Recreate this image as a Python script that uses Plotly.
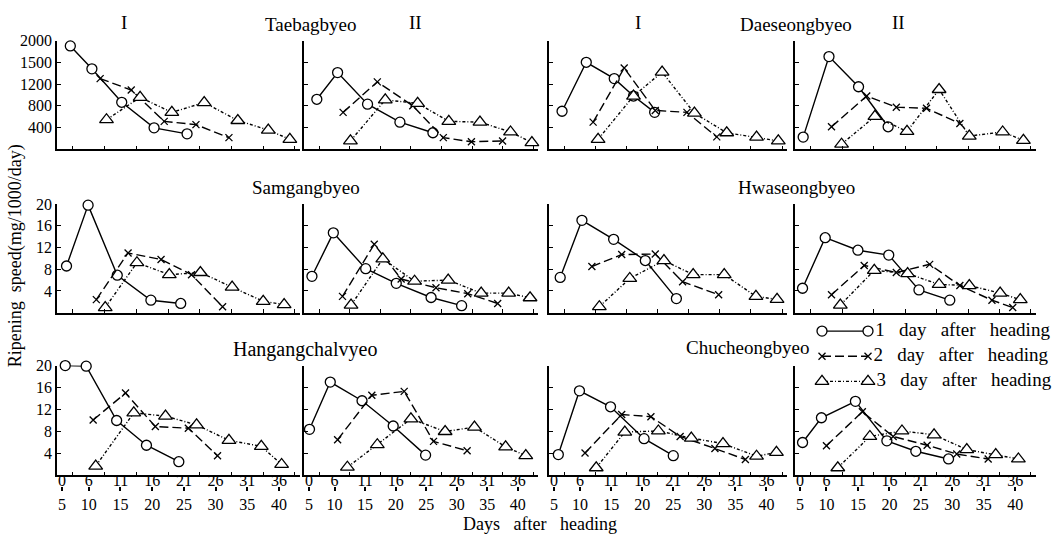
import plotly.graph_objects as go

FONT = "Liberation Serif"
W, H = 1064, 538

# ---------------- axis labels ----------------
x_tick_top = ["0", "6", "11", "16", "21", "26", "31", "36"]
x_tick_bottom = ["5", "10", "15", "20", "25", "30", "35", "40"]
x_tick_days = [0.8, 5, 10, 15, 20, 25, 30, 35]
x_bound_days = [2.5, 7.5, 12.5, 17.5, 22.5, 27.5, 32.5, 37.5]
y_vals_first = [400, 800, 1200, 1600, 2000]
y_text_first = ["400", "800", "1200", "1500", "2000"]
y_vals_rest = [4, 8, 12, 16, 20]

# ---------------- data: days after heading, ripening speed ----------------
# Taebagbyeo I
taebag1_d1_x = [2.1, 5.5, 10.2, 15.3, 20.5]
taebag1_d1_y = [1900, 1480, 865, 395, 285]
taebag1_d2_x = [6.8, 11.7, 16.9, 21.9, 27.1]
taebag1_d2_y = [1300, 1090, 515, 455, 215]
taebag1_d3_x = [7.8, 13.1, 18.1, 23.2, 28.5, 33.3, 36.7]
taebag1_d3_y = [545, 955, 680, 860, 530, 355, 185]
# Taebagbyeo II
taebag2_d1_x = [2.1, 5.5, 10.4, 15.7, 21.1]
taebag2_d1_y = [920, 1410, 830, 500, 305]
taebag2_d2_x = [6.4, 12.0, 17.8, 22.8, 27.4, 32.5]
taebag2_d2_y = [680, 1240, 800, 215, 140, 155]
taebag2_d3_x = [7.6, 13.3, 18.6, 23.7, 28.8, 33.8, 37.3]
taebag2_d3_y = [155, 910, 845, 515, 500, 320, 125]
# Daeseongbyeo I
daeseong1_d1_x = [2.1, 6.0, 10.5, 13.6, 17.0]
daeseong1_d1_y = [700, 1600, 1300, 980, 680]
daeseong1_d2_x = [7.1, 12.1, 17.1, 22.2, 27.0]
daeseong1_d2_y = [500, 1495, 715, 680, 230]
daeseong1_d3_x = [7.9, 13.6, 18.2, 23.4, 28.6, 33.4, 36.9]
daeseong1_d3_y = [185, 980, 1420, 665, 305, 225, 155]
# Daeseongbyeo II
daeseong2_d1_x = [1.3, 5.4, 10.1, 14.8]
daeseong2_d1_y = [225, 1705, 1150, 415]
daeseong2_d2_x = [5.8, 11.4, 16.1, 20.9, 26.2]
daeseong2_d2_y = [415, 980, 775, 755, 475]
daeseong2_d3_x = [7.4, 12.7, 17.8, 22.9, 27.7, 33.0, 36.3]
daeseong2_d3_y = [95, 605, 330, 1100, 245, 320, 165]
# Samgangbyeo I
samgang1_d1_x = [1.5, 4.9, 9.5, 14.8, 19.5]
samgang1_d1_y = [8.6, 19.8, 6.9, 2.3, 1.7]
samgang1_d2_x = [6.2, 11.2, 16.4, 21.2, 26.1]
samgang1_d2_y = [2.4, 11.0, 9.8, 7.0, 1.1]
samgang1_d3_x = [7.6, 12.6, 17.7, 22.6, 27.6, 32.5, 35.8]
samgang1_d3_y = [0.95, 9.2, 7.0, 7.4, 4.7, 2.1, 1.5]
# Samgangbyeo II
samgang2_d1_x = [1.3, 4.8, 10.1, 15.1, 20.8, 25.8]
samgang2_d1_y = [6.7, 14.7, 8.1, 5.4, 2.8, 1.3]
samgang2_d2_x = [6.3, 11.5, 15.9, 21.6, 26.8, 31.7]
samgang2_d2_y = [3.0, 12.6, 6.2, 4.6, 3.5, 1.7]
samgang2_d3_x = [7.7, 12.9, 18.1, 23.6, 29.0, 33.5, 37.0]
samgang2_d3_y = [1.4, 9.9, 5.8, 6.0, 3.6, 3.6, 2.75]
# Hwaseongbyeo I
hwaseong1_d1_x = [1.8, 5.3, 10.4, 15.5, 20.5]
hwaseong1_d1_y = [6.5, 17.0, 13.5, 9.6, 2.6]
hwaseong1_d2_x = [6.9, 11.7, 17.1, 21.5, 27.3]
hwaseong1_d2_y = [8.5, 10.7, 10.8, 5.7, 3.3]
hwaseong1_d3_x = [8.1, 13.0, 18.5, 23.2, 28.2, 33.3, 36.7]
hwaseong1_d3_y = [1.1, 6.3, 9.6, 7.0, 7.0, 3.0, 2.45]
# Hwaseongbyeo II
hwaseong2_d1_x = [1.2, 4.8, 10.0, 14.9, 19.7, 24.6]
hwaseong2_d1_y = [4.5, 13.8, 11.5, 10.6, 4.2, 2.3]
hwaseong2_d2_x = [5.8, 11.0, 16.1, 21.4, 26.2, 31.3, 34.6]
hwaseong2_d2_y = [3.3, 8.7, 7.4, 8.9, 5.0, 2.3, 0.95]
hwaseong2_d3_x = [7.2, 12.6, 17.9, 22.9, 27.7, 32.6, 35.8]
hwaseong2_d3_y = [1.4, 7.8, 7.2, 5.2, 5.0, 3.6, 2.4]
# Hangangchalvyeo I
hangang1_d1_x = [1.3, 4.6, 9.4, 14.1, 19.2]
hangang1_d1_y = [20.0, 19.9, 10.0, 5.5, 2.5]
hangang1_d2_x = [5.7, 10.8, 15.5, 20.7, 25.3]
hangang1_d2_y = [10.1, 15.0, 8.9, 8.6, 3.6]
hangang1_d3_x = [6.1, 12.1, 17.1, 22.0, 27.1, 32.2, 35.4]
hangang1_d3_y = [1.7, 11.4, 10.8, 9.2, 6.4, 5.3, 2.0]
# Hangangchalvyeo II
hangang2_d1_x = [0.9, 4.3, 9.5, 14.6, 19.9]
hangang2_d1_y = [8.4, 17.0, 13.6, 9.0, 3.7]
hangang2_d2_x = [5.5, 11.1, 16.4, 21.2, 26.7]
hangang2_d2_y = [6.5, 14.6, 15.3, 6.2, 4.5]
hangang2_d3_x = [7.1, 12.0, 17.5, 23.1, 27.9, 33.0, 36.3]
hangang2_d3_y = [1.5, 5.6, 10.3, 8.0, 8.8, 5.2, 3.6]
# Chucheongbyeo I
chucheong1_d1_x = [1.5, 4.9, 9.9, 15.3, 20.0]
chucheong1_d1_y = [3.8, 15.4, 12.5, 6.7, 3.6]
chucheong1_d2_x = [5.8, 11.7, 16.4, 21.1, 26.7, 31.6]
chucheong1_d2_y = [4.1, 11.1, 10.7, 7.1, 4.9, 2.9]
chucheong1_d3_x = [7.6, 12.2, 17.6, 22.9, 28.0, 33.4, 36.6]
chucheong1_d3_y = [1.4, 7.9, 8.1, 6.8, 5.8, 3.5, 4.2]
# Chucheongbyeo II
chucheong2_d1_x = [1.2, 4.2, 9.6, 14.6, 19.2, 24.4]
chucheong2_d1_y = [6.0, 10.5, 13.5, 6.3, 4.4, 3.0]
chucheong2_d2_x = [5.0, 10.7, 15.6, 21.0, 25.7, 30.7]
chucheong2_d2_y = [5.4, 11.6, 7.1, 5.5, 3.9, 3.0]
chucheong2_d3_x = [6.8, 11.9, 17.0, 22.1, 27.3, 31.9, 35.5]
chucheong2_d3_y = [1.4, 7.1, 8.1, 7.4, 4.7, 3.8, 3.0]

series_names = ["1 day after heading", "2 day after heading", "3 day after heading"]

panels = [
    [(taebag1_d1_x, taebag1_d1_y), (taebag1_d2_x, taebag1_d2_y), (taebag1_d3_x, taebag1_d3_y)],
    [(taebag2_d1_x, taebag2_d1_y), (taebag2_d2_x, taebag2_d2_y), (taebag2_d3_x, taebag2_d3_y)],
    [(daeseong1_d1_x, daeseong1_d1_y), (daeseong1_d2_x, daeseong1_d2_y), (daeseong1_d3_x, daeseong1_d3_y)],
    [(daeseong2_d1_x, daeseong2_d1_y), (daeseong2_d2_x, daeseong2_d2_y), (daeseong2_d3_x, daeseong2_d3_y)],
    [(samgang1_d1_x, samgang1_d1_y), (samgang1_d2_x, samgang1_d2_y), (samgang1_d3_x, samgang1_d3_y)],
    [(samgang2_d1_x, samgang2_d1_y), (samgang2_d2_x, samgang2_d2_y), (samgang2_d3_x, samgang2_d3_y)],
    [(hwaseong1_d1_x, hwaseong1_d1_y), (hwaseong1_d2_x, hwaseong1_d2_y), (hwaseong1_d3_x, hwaseong1_d3_y)],
    [(hwaseong2_d1_x, hwaseong2_d1_y), (hwaseong2_d2_x, hwaseong2_d2_y), (hwaseong2_d3_x, hwaseong2_d3_y)],
    [(hangang1_d1_x, hangang1_d1_y), (hangang1_d2_x, hangang1_d2_y), (hangang1_d3_x, hangang1_d3_y)],
    [(hangang2_d1_x, hangang2_d1_y), (hangang2_d2_x, hangang2_d2_y), (hangang2_d3_x, hangang2_d3_y)],
    [(chucheong1_d1_x, chucheong1_d1_y), (chucheong1_d2_x, chucheong1_d2_y), (chucheong1_d3_x, chucheong1_d3_y)],
    [(chucheong2_d1_x, chucheong2_d1_y), (chucheong2_d2_x, chucheong2_d2_y), (chucheong2_d3_x, chucheong2_d3_y)],
]

# ---------------- styles ----------------
LW = 1.4
line_styles = [
    dict(color="black", width=LW, dash="solid"),
    dict(color="black", width=LW, dash="9px,4px"),
    dict(color="black", width=LW, dash="3px,2px,1px,2px"),
]
marker_styles = [
    dict(symbol="circle", size=10, color="white", line=dict(color="black", width=1.3)),
    dict(symbol="x-thin", size=7, color="black", line=dict(color="black", width=1.3)),
    dict(symbol="triangle-up", size=12, color="white", line=dict(color="black", width=1.3)),
]
tick_font = dict(family=FONT, size=16, color="black")


def fx(px):
    return px / W


def fy(py):
    return 1 - py / H


col_px = [(57, 300), (304, 538), (549, 787), (795, 1036)]
row_px = [(33, 143.5), (199, 309.3), (363, 474.5)]

fig = go.Figure()
layout = {}


def axis_key(kind, n):
    return kind + ("axis" if n == 1 else f"axis{n}")


for i, panel in enumerate(panels):
    r, c = divmod(i, 4)
    n = i + 1
    xa = "x" if n == 1 else f"x{n}"
    ya = "y" if n == 1 else f"y{n}"
    for k, (xs, ys) in enumerate(panel):
        fig.add_trace(go.Scatter(
            x=xs, y=ys, mode="lines+markers", name=series_names[k],
            line=line_styles[k], marker=marker_styles[k],
            xaxis=xa, yaxis=ya, cliponaxis=False, showlegend=False,
        ))
    first = r == 0
    layout[axis_key("x", n)] = dict(
        domain=[fx(col_px[c][0]), fx(col_px[c][1])],
        anchor=ya, range=[0, 38.3], showgrid=False, zeroline=False,
        showline=True, linecolor="black", linewidth=1.5,
        tickmode="array", tickvals=x_bound_days,
        ticks="inside", ticklen=4, tickwidth=1.3, tickcolor="black",
        showticklabels=False,
    )
    layout[axis_key("y", n)] = dict(
        domain=[fy(row_px[r][1]), fy(row_px[r][0])],
        anchor=xa, range=[0, 2000] if first else [0, 20],
        showgrid=False, zeroline=False,
        showline=True, linecolor="black", linewidth=1.5,
        tickmode="array",
        tickvals=y_vals_first if first else y_vals_rest,
        ticktext=y_text_first if first else [str(v) for v in y_vals_rest],
        ticks="inside", ticklen=4, tickwidth=1.3, tickcolor="black",
        showticklabels=(c == 0), tickfont=tick_font,
    )

# two-line interval labels under the bottom row (start day / end day)
for c in range(4):
    for j, (texts, top_px, tick_on) in enumerate(
            [(x_tick_top, 468.0, False), (x_tick_bottom, 485.0, True)]):
        n = 13 + 4 * j + c
        fig.add_trace(go.Scatter(x=[None], y=[None], xaxis=f"x{n}", yaxis=f"y{n}",
                                 showlegend=False, hoverinfo="skip"))
        layout[f"xaxis{n}"] = dict(
            domain=[fx(col_px[c][0]), fx(col_px[c][1])], anchor=f"y{n}",
            range=[0, 38.3], showgrid=False, zeroline=False, showline=False,
            tickmode="array", tickvals=x_tick_days, ticktext=texts,
            ticks="outside" if tick_on else "", ticklen=4, tickwidth=1.6,
            tickcolor="black", tickfont=tick_font,
        )
        layout[f"yaxis{n}"] = dict(
            domain=[fy(top_px), fy(top_px - 1)], anchor=f"x{n}",
            visible=False, range=[0, 1],
        )

# key, drawn on a page-sized hidden axis pair
layout["xaxis21"] = dict(domain=[0, 1], range=[0, W], visible=False, anchor="y21")
layout["yaxis21"] = dict(domain=[0, 1], range=[H, 0], visible=False, anchor="x21")
for k in range(3):
    yk = 328 + 25.5 * k
    fig.add_trace(go.Scatter(
        x=[822, 868], y=[yk, yk], mode="lines+markers+text",
        text=["", series_names[k].replace(" ", "\u00a0\u00a0\u00a0")],
        textposition="middle right",
        textfont=dict(family=FONT, size=19, color="black"),
        line=line_styles[k], marker=marker_styles[k],
        xaxis="x21", yaxis="y21", showlegend=False, hoverinfo="skip",
        cliponaxis=False,
    ))

annotations = []


def label(text, x, y, size=19, angle=0):
    annotations.append(dict(
        text=text, x=fx(x), y=fy(y), xref="paper", yref="paper",
        showarrow=False, textangle=angle, xanchor="center", yanchor="middle",
        font=dict(family=FONT, size=size, color="black"),
    ))


label("I", 124, 15)
label("Taebagbyeo", 311, 17)
label("II", 415, 15)
label("I", 638, 15)
label("Daeseongbyeo", 796, 17)
label("II", 898, 15)
label("Samgangbyeo", 306, 182)
label("Hwaseongbyeo", 796, 182)
label("Hangangchalvyeo", 305, 347, size=20)
label("Chucheongbyeo", 747, 345)
label("Ripening\u00a0\u00a0speed(mg/1000/day)", 15, 252, size=18, angle=-90)
label("Days\u00a0\u00a0\u00a0after\u00a0\u00a0\u00a0heading", 540, 524, size=18)

layout.update(
    width=W, height=H, margin=dict(l=0, r=0, t=0, b=0),
    paper_bgcolor="white", plot_bgcolor="rgba(0,0,0,0)",
    showlegend=False, annotations=annotations,
    font=dict(family=FONT, color="black"),
)
fig.update_layout(**layout)
fig.write_html("out.html")
